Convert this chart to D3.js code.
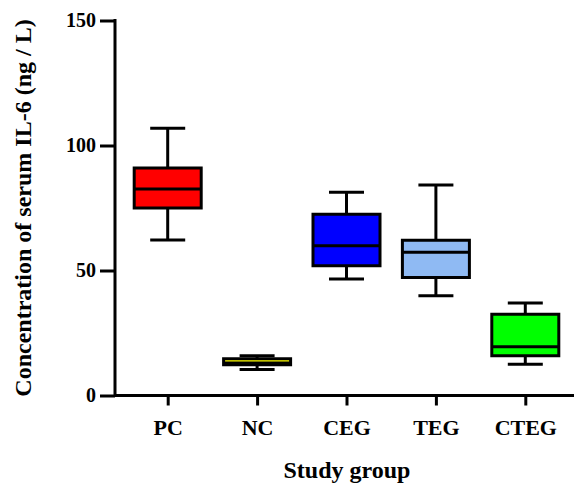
<!DOCTYPE html>
<html>
<head>
<meta charset="utf-8">
<script src="https://cdn.jsdelivr.net/npm/d3@7/dist/d3.min.js"></script>
<style>
  html, body { margin: 0; padding: 0; background: #fff; }
  svg { display: block; }
  text { font-family: "Liberation Serif", "Times New Roman", serif; font-weight: bold; fill: #000; }
</style>
</head>
<body>
<svg id="chart" width="574" height="484"></svg>
<script>
// IL-6 box plots per study group
const groups  = ['PC', 'NC', 'CEG', 'TEG', 'CTEG'];
const mins    = [62.2, 10.4, 46.6, 39.9, 12.5];
const q1s     = [75.0, 12.3, 51.9, 47.2, 15.9];
const medians = [82.6, 13.0, 59.9, 57.3, 19.5];
const q3s     = [91.0, 14.7, 72.5, 62.1, 32.5];
const maxs    = [106.9, 15.9, 81.3, 84.2, 37.0];
const fills   = ['#ff0000', '#ffff00', '#0000ff', '#8fbaf3', '#00ff00'];
const yTicks  = [0, 50, 100, 150];

const svg = d3.select('#chart');
const axisX = 115, axisY = 395.5;

const x = d3.scalePoint().domain(groups).range([167.7, 525.3]);
const y = d3.scaleLinear().domain([0, 150]).range([axisY, 20.5]);

const boxW = 67, capW = 35, sw = 3;

const data = groups.map((g, i) => ({
  g, min: mins[i], q1: q1s[i], med: medians[i], q3: q3s[i], max: maxs[i], fill: fills[i]
}));

const box = svg.selectAll('g.box').data(data).enter().append('g').attr('class', 'box');
// whisker stems
box.append('line')
  .attr('x1', d => x(d.g)).attr('x2', d => x(d.g))
  .attr('y1', d => y(d.max)).attr('y2', d => y(d.min))
  .attr('stroke', '#000').attr('stroke-width', sw);
// caps
['min', 'max'].forEach(k => {
  box.append('line')
    .attr('x1', d => x(d.g) - capW / 2).attr('x2', d => x(d.g) + capW / 2)
    .attr('y1', d => y(d[k])).attr('y2', d => y(d[k]))
    .attr('stroke', '#000').attr('stroke-width', sw);
});
box.append('rect')
  .attr('x', d => x(d.g) - boxW / 2).attr('width', boxW)
  .attr('y', d => y(d.q3)).attr('height', d => y(d.q1) - y(d.q3))
  .attr('fill', d => d.fill).attr('stroke', '#000').attr('stroke-width', sw);
box.append('line')
  .attr('x1', d => x(d.g) - boxW / 2).attr('x2', d => x(d.g) + boxW / 2)
  .attr('y1', d => y(d.med)).attr('y2', d => y(d.med))
  .attr('stroke', '#000').attr('stroke-width', sw);

// y axis
const gy = svg.append('g').attr('transform', `translate(${axisX},0)`)
  .call(d3.axisLeft(y).tickValues(yTicks).tickSize(15).tickSizeOuter(0).tickPadding(4));
gy.select('.domain').remove();
gy.selectAll('.tick line').attr('stroke', '#000').attr('stroke-width', sw);
gy.selectAll('.tick text').attr('font-size', 20).style('font-family', '"Liberation Serif", serif').style('font-weight', 'bold');
svg.append('line').attr('x1', axisX).attr('x2', axisX)
  .attr('y1', y(150) - sw / 2).attr('y2', axisY + sw / 2)
  .attr('stroke', '#000').attr('stroke-width', sw);

// x axis
const gx = svg.append('g').attr('transform', `translate(0,${axisY})`)
  .call(d3.axisBottom(x).tickSize(10).tickSizeOuter(0).tickPadding(14));
gx.select('.domain').remove();
gx.selectAll('.tick line').attr('stroke', '#000').attr('stroke-width', sw);
gx.selectAll('.tick text').attr('font-size', 22).style('font-family', '"Liberation Serif", serif').style('font-weight', 'bold');
svg.append('line').attr('x1', axisX).attr('x2', 574)
  .attr('y1', axisY).attr('y2', axisY)
  .attr('stroke', '#000').attr('stroke-width', sw);

// titles
svg.append('text').attr('x', 347).attr('y', 478)
  .attr('text-anchor', 'middle').attr('font-size', 24).text('Study group');
svg.append('text').attr('transform', 'translate(31,208) rotate(-90)')
  .attr('text-anchor', 'middle').attr('font-size', 24)
  .text('Concentration of serum IL-6 (ng / L)');
</script>
</body>
</html>
